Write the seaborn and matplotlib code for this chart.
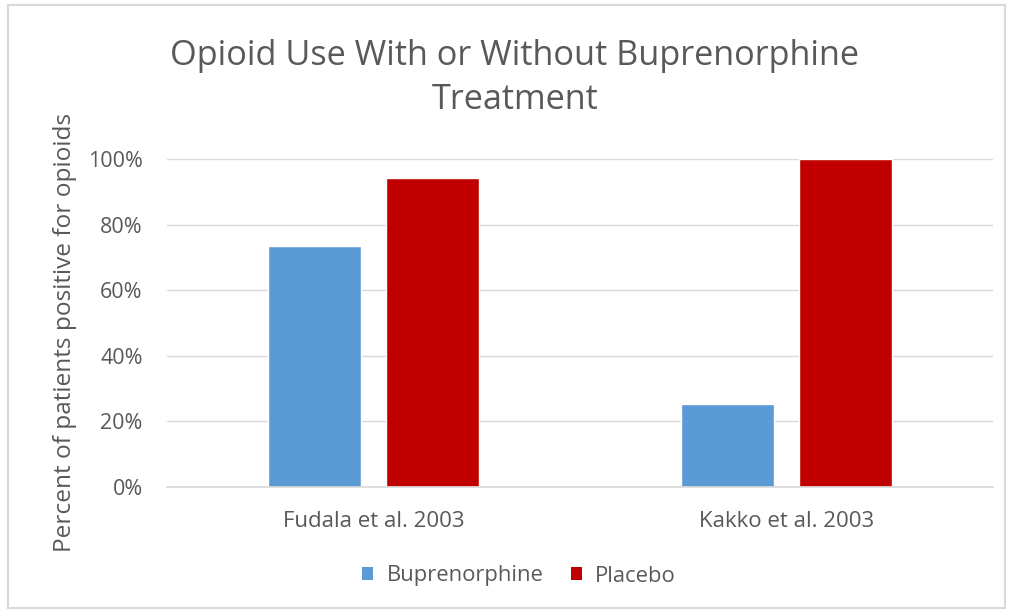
import matplotlib
matplotlib.use("Agg")
import matplotlib.pyplot as plt
import seaborn as sns
import pandas as pd
from matplotlib.patches import Rectangle, Patch
from matplotlib.ticker import PercentFormatter

studies = ["Fudala et al. 2003", "Kakko et al. 2003"]
buprenorphine = [73.5, 25.3]
placebo = [94.2, 100.0]
series_names = ["Buprenorphine", "Placebo"]
colors = ["#5B9BD5", "#C00000"]
yticks = [0, 20, 40, 60, 80, 100]

df = pd.DataFrame({
    "study": studies * 2,
    "value": buprenorphine + placebo,
    "series": [series_names[0]] * 2 + [series_names[1]] * 2,
})

sns.set_theme(style="white")
plt.rcParams["font.family"] = ["Open Sans", "DejaVu Sans"]
txt = "#595959"

fig = plt.figure(figsize=(10.11, 6.14), dpi=100)
ax = fig.add_axes([167/1011, 1-487/614, (993-167)/1011, (487-159)/614])

sns.barplot(data=df, x="study", y="value", hue="series", palette=colors,
            width=0.567, gap=0.206, ax=ax, legend=False, saturation=1)

ax.set_xlim(-0.5, 1.5)
ax.set_yticks(yticks)
ax.yaxis.set_major_formatter(PercentFormatter(decimals=0))
ax.grid(axis="y", color="#D9D9D9", linewidth=1)
ax.set_axisbelow(True)
for s in ["top", "right", "left"]:
    ax.spines[s].set_visible(False)
ax.spines["bottom"].set_color("#D9D9D9")
ax.tick_params(axis="both", length=0, labelsize=15.5, colors=txt)
ax.tick_params(axis="y", pad=17.5)
ax.tick_params(axis="x", pad=17, labelsize=16)
ax.set_xlabel("")
ax.set_ylabel("")
ax.set_ylim(0, 100)

fig.text(65/1011, 1-332/614, "Percent of patients positive for opioids", rotation=90,
         ha="center", va="center", fontsize=17.6, color=txt)
fig.text(515/1011, 1-78/614, "Opioid Use With or Without Buprenorphine\nTreatment",
         ha="center", va="center", fontsize=24.7, color=txt, linespacing=1.35)

handles = [Patch(facecolor=c, edgecolor="none") for c in colors]
fig.legend(handles, series_names, loc="center", bbox_to_anchor=(519/1011, 1-576/614),
           ncol=2, frameon=False, fontsize=15.8, handlelength=0.5, handleheight=0.5,
           columnspacing=1.25, handletextpad=0.6, labelcolor=txt)

fig.patches.append(Rectangle((8/1011, 1-608/614), (1005-8)/1011, (608-5)/614,
                             transform=fig.transFigure, fill=False,
                             edgecolor="#D9D9D9", linewidth=1.5))

fig.savefig("out.png", dpi=100)
